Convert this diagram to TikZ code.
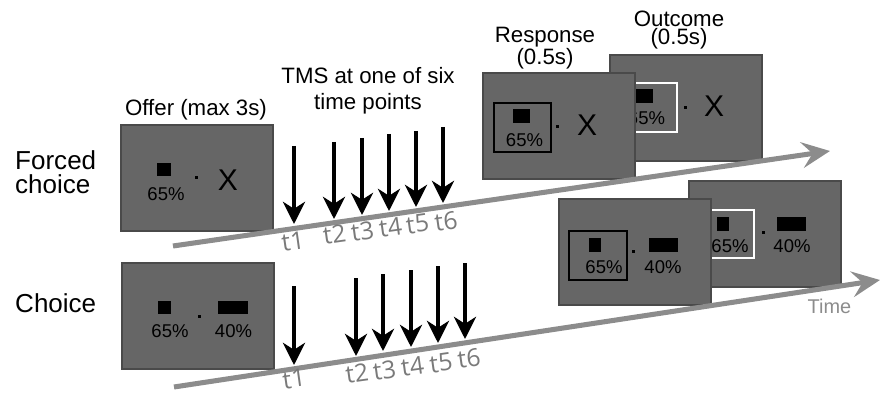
\documentclass[tikz,border=0pt]{standalone}
\usepackage{fontspec}
\setmainfont{Liberation Sans}
\newfontfamily\ticksans{Open Sans}
\usepackage{xcolor}
\usepackage{tikz}
\usetikzlibrary{arrows.meta,positioning}

\definecolor{screengray}{HTML}{666666}
\definecolor{screenedge}{HTML}{4A4A4A}
\definecolor{linegray}{HTML}{8C8C8C}
\definecolor{tickgray}{HTML}{7A7A7A}

\begin{document}
\begin{tikzpicture}[x=0.03cm,y=-0.03cm,
    screen/.style={draw=screenedge, fill=screengray, line width=1.5pt,
      minimum width=4.56cm, minimum height=3.18cm, inner sep=0pt, anchor=north west},
    pct/.style={anchor=base, inner sep=0pt, font=\fontsize{15.8}{18}\selectfont},
    bigx/.style={anchor=base, inner sep=0pt, font=\fontsize{25.6}{28}\selectfont},
    head/.style={inner sep=0pt, align=center, font=\fontsize{19}{15}\selectfont},
    rowlbl/.style={inner sep=0pt, align=left, font=\fontsize{22.2}{20}\selectfont},
    ticklbl/.style={inner sep=0pt, rotate=8, text=tickgray, font=\ticksans\fontsize{21}{24}\selectfont},
    timeline/.style={draw=linegray, line width=4.3pt, -{Stealth[length=24pt,width=22pt,inset=9pt]}},
    tms/.style={line width=2.6pt, -{Stealth[length=19pt,width=19pt,inset=6pt]}}]
        \useasboundingbox (0,0) rectangle (883,395);

        % Labels
        \node[rowlbl, anchor=west] (forcedlbl) at (15,172) {Forced\\choice};
        \node[rowlbl, anchor=base west] (choicelbl) at (15,312) {Choice};
        \node[head, anchor=base] (offerlbl) at (196,116) {Offer (max 3s)};
        \node[head, font=\fontsize{19}{22.2}\selectfont] (tmslbl) at (368,91) {TMS at one of six\\time points};
        \node[head] (resplbl) at (545,48) {Response\\(0.5s)};
        \node[head] (outlbl) at (679,30) {Outcome\\(0.5s)};

        % Forced choice: offer
        \node[screen] (fcoffer) at (120,124) {};
        \fill (157,163) rectangle (171,176);
        \node[pct] (fcoffer65) at (166,200) {65\%};
        \fill (195,176) rectangle (198,179);
        \node[bigx] (fcofferx) at (228,190) {X};

        % Forced choice: outcome
        \node[screen] (fcout) at (609,54) {};
        \draw[white, line width=1.2pt] (621,83) rectangle (677,132);
        \fill (636,89) rectangle (653,103);
        \node[pct] (fcout65) at (646.5,125) {65\%};
        \fill (684,106) rectangle (687,109);
        \node[bigx] (fcoutx) at (714,117) {X};

        % Forced choice: response
        \node[screen] (fcresp) at (482,72) {};
        \draw[line width=1.2pt] (494,103) rectangle (551,152);
        \fill (513,109) rectangle (530,123);
        \node[pct] (fcresp65) at (524.5,146) {65\%};
        \fill (556,125) rectangle (559,128);
        \node[bigx] (fcrespx) at (587,135) {X};

        % Choice: offer
        \node[screen] (choffer) at (121,262) {};
        \fill (158,301) rectangle (171,314);
        \fill (218,301) rectangle (248,314);
        \node[pct] (choffer65) at (170,337) {65\%};
        \node[pct] (choffer40) at (233.5,337) {40\%};
        \fill (198,315) rectangle (201,318);

        % Choice: outcome
        \node[screen] (chout) at (688,180) {};
        \draw[white, line width=1.2pt] (700,210) rectangle (754,258);
        \fill (717,217) rectangle (729,231);
        \fill (777,217) rectangle (806,231);
        \node[pct] (chout65) at (730,252) {65\%};
        \node[pct] (chout40) at (792,252) {40\%};
        \fill (762,231) rectangle (765,234);

        % Choice: response
        \node[screen] (chresp) at (558,198) {};
        \draw[line width=1.2pt] (569,231) rectangle (627,280);
        \fill (589,238) rectangle (601,252);
        \fill (649,238) rectangle (678,252);
        \node[pct] (chresp65) at (604,273) {65\%};
        \node[pct] (chresp40) at (663,273) {40\%};
        \fill (632,250) rectangle (635,253);

        % Time lines
        \coordinate (fcstart) at (173,246);
        \coordinate (fcend) at (830,151);
        \draw[timeline] (fcstart) -- (fcend);
        \coordinate (chstart) at (174,387);
        \coordinate (chend) at (880,280);
        \draw[timeline] (chstart) -- (chend);
        \node[anchor=base, inner sep=0pt, text=linegray, font=\fontsize{17}{20}\selectfont] (timelbl) at (829.5,313) {Time};

        % TMS pulses
        \foreach \n/\x/\ya/\yb/\lx/\ly in {1/294/146/224/293/241.5, 2/334/142/219/334.5/234,
            3/362/138/215/362.5/231, 4/389/134/211/390.5/227.5, 5/416/131/207/417.5/224, 6/443/127/203/446/221}{
          \coordinate (fct\n) at (\x,\ya);
          \coordinate (fcp\n) at (\x,\yb);
          \draw[tms] (fct\n) -- (fcp\n);
          \node[ticklbl] (fclbl\n) at (\lx,\ly) {t\n};
        }
        \foreach \n/\x/\ya/\yb/\lx/\ly in {1/294/286/365/294/379, 2/356/278/356/357/373.5,
            3/383/274/351/384.5/370, 4/411/270/347/412.5/366, 5/438/266/343/441/363, 6/465/263/339/469/358.5}{
          \coordinate (cht\n) at (\x,\ya);
          \coordinate (chp\n) at (\x,\yb);
          \draw[tms] (cht\n) -- (chp\n);
          \node[ticklbl] (chlbl\n) at (\lx,\ly) {t\n};
        }
      \end{tikzpicture}
\end{document}
